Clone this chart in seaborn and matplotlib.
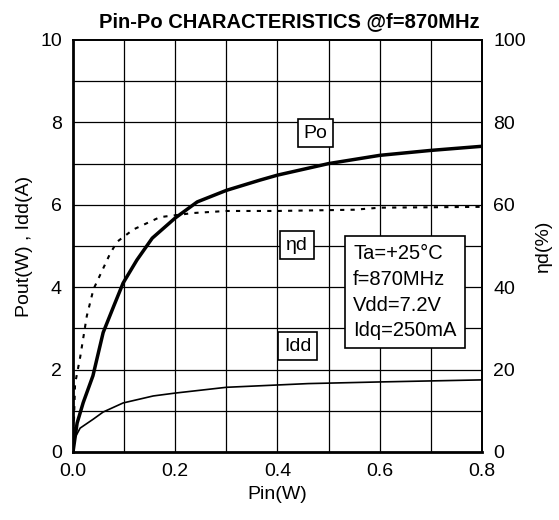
import matplotlib
matplotlib.use("Agg")
import matplotlib.pyplot as plt
import seaborn as sns
import pandas as pd

# Data
pin_po = [0.0, 0.008, 0.02, 0.039, 0.059, 0.08, 0.098, 0.125, 0.155, 0.2, 0.243, 0.3, 0.366, 0.4, 0.5, 0.6, 0.7, 0.8]
po = [0.0, 0.7, 1.2, 1.85, 2.9, 3.55, 4.1, 4.66, 5.19, 5.68, 6.07, 6.35, 6.6, 6.72, 7.0, 7.2, 7.32, 7.42]

pin_eff = [0.0, 0.004, 0.014, 0.027, 0.04, 0.072, 0.086, 0.118, 0.17, 0.235, 0.3, 0.4, 0.55, 0.6, 0.8]
eff = [0.0, 16.5, 23.0, 33.0, 39.5, 48.0, 51.0, 54.0, 57.0, 58.0, 58.5, 58.5, 58.8, 59.3, 59.5]

pin_idd = [0.0, 0.004, 0.014, 0.04, 0.059, 0.098, 0.157, 0.2, 0.3, 0.46, 0.6, 0.8]
idd = [0.0, 0.35, 0.58, 0.8, 0.97, 1.19, 1.36, 1.43, 1.57, 1.66, 1.7, 1.75]

x_ticks = [0.0, 0.2, 0.4, 0.6, 0.8]
y_left_ticks = [0, 2, 4, 6, 8, 10]
y_right_ticks = [0, 20, 40, 60, 80, 100]

sns.set_theme(style="white")
plt.rcParams['font.family'] = ['Liberation Sans', 'DejaVu Sans']
plt.rcParams['text.color'] = 'black'
plt.rcParams['axes.labelcolor'] = 'black'
plt.rcParams['xtick.color'] = 'black'
plt.rcParams['ytick.color'] = 'black'

fig = plt.figure(figsize=(5.59, 5.2), dpi=100)
ax = fig.add_axes([0.1306, 0.1308, 0.7316, 0.7923])

df_po = pd.DataFrame({"Pin": pin_po, "Po": po})
df_idd = pd.DataFrame({"Pin": pin_idd, "Idd": idd})
df_eff = pd.DataFrame({"Pin": pin_eff, "Eff": eff})

# grid
ax.set_xlim(0, 0.8)
ax.set_ylim(0, 10)
for xv in [0.1 * i for i in range(1, 8)]:
    ax.axvline(xv, color="black", lw=0.9, zorder=1)
for yv in range(1, 10):
    ax.axhline(yv, color="black", lw=0.9, zorder=1)

sns.lineplot(data=df_po, x="Pin", y="Po", ax=ax, color="black", lw=2.5, zorder=3)
sns.lineplot(data=df_idd, x="Pin", y="Idd", ax=ax, color="black", lw=1.2, zorder=3)

ax2 = ax.twinx()
sns.lineplot(data=df_eff, x="Pin", y="Eff", ax=ax2, color="black", lw=1.5,
             linestyle=(0, (2.0, 3.0)), zorder=3)
ax2.set_ylim(0, 100)

fs = 14
ax.set_xticks(x_ticks)
ax.set_xticklabels([f"{v:.1f}" for v in x_ticks], fontsize=fs)
ax.set_yticks(y_left_ticks)
ax.set_yticklabels([str(v) for v in y_left_ticks], fontsize=fs)
ax2.set_yticks(y_right_ticks)
ax2.set_yticklabels([str(v) for v in y_right_ticks], fontsize=fs)
ax.tick_params(axis="both", length=0, pad=8, colors="black")
ax2.tick_params(axis="y", length=0, pad=8, colors="black")

ax.set_xlabel("Pin(W)", fontsize=fs, labelpad=4, color="black")
ax.set_ylabel("Pout(W) , Idd(A)", fontsize=fs, labelpad=5, color="black")
ax2.set_ylabel("ηd(%)", fontsize=fs, labelpad=7, color="black")
ax.set_title("Pin-Po CHARACTERISTICS @f=870MHz", fontsize=14.5, fontweight="bold",
             pad=9, color="black", x=0.53)

for a in (ax, ax2):
    for s in a.spines.values():
        s.set_color("black")
ax.spines["left"].set_linewidth(2.0)
ax.spines["bottom"].set_linewidth(2.0)
ax.spines["top"].set_linewidth(1.2)
ax2.spines["right"].set_linewidth(1.3)
ax2.spines["left"].set_visible(False)
ax2.spines["bottom"].set_visible(False)

box = dict(boxstyle="square,pad=0.3", fc="white", ec="black", lw=1.2)
ax.text(0.474, 7.74, "Po", fontsize=fs, ha="center", va="center", bbox=box, zorder=5)
ax.text(0.438, 5.02, "ηd", fontsize=fs, ha="center", va="center", bbox=box, zorder=5)
ax.text(0.44, 2.57, "Idd", fontsize=fs, ha="center", va="center", bbox=box, zorder=5)
ax.text(0.548, 3.88, "Ta=+25°C\nf=870MHz\nVdd=7.2V\nIdq=250mA", fontsize=14.5,
        ha="left", va="center", linespacing=1.45,
        bbox=dict(boxstyle="square,pad=0.4", fc="white", ec="black", lw=1.2), zorder=5)

ax.set_zorder(ax2.get_zorder() + 1)
ax.patch.set_visible(False)

fig.savefig("out.png", dpi=100)
